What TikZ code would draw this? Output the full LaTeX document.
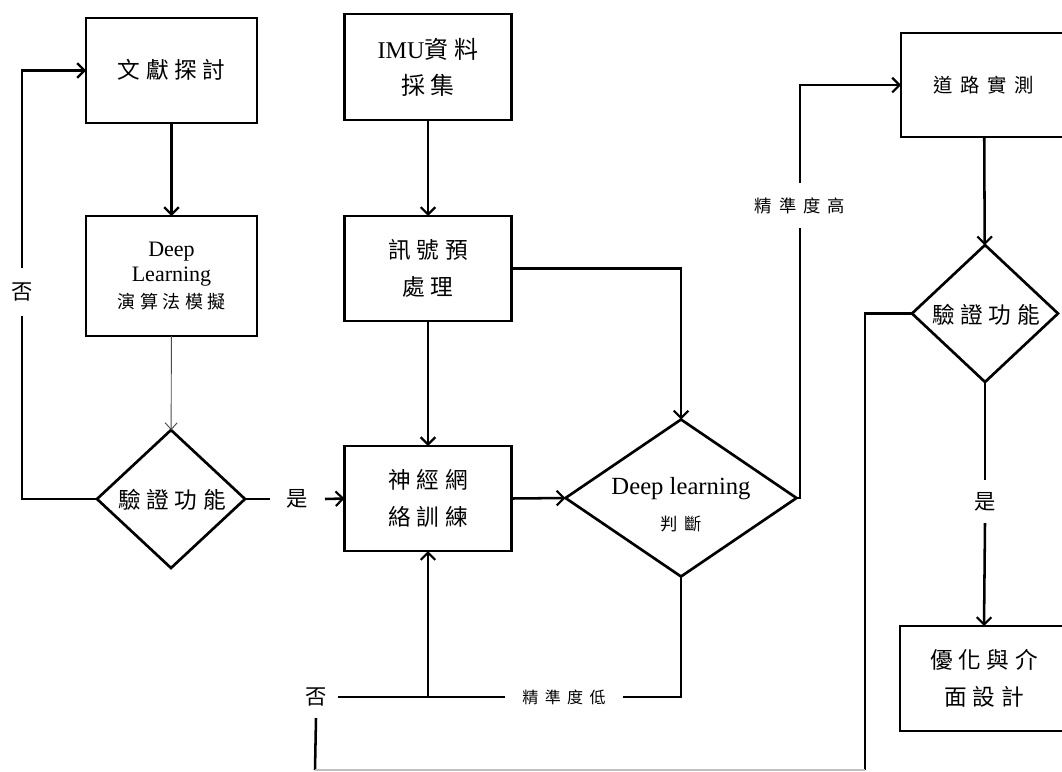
\documentclass[tikz,border=0pt]{standalone}
\usepackage{fontspec}
\setmainfont{Liberation Serif}
\newfontfamily\cjk{Noto Sans CJK TC}[LetterSpace=25]
\newfontfamily\cjkw{Noto Sans CJK TC}[LetterSpace=40]
\usetikzlibrary{arrows.meta,shapes.geometric}
\newcommand{\zhL}{\cjk\fontsize{17}{28}\selectfont}
\newcommand{\zhS}{\cjkw\fontsize{13}{20}\selectfont}
\newcommand{\zhR}{\cjkw\fontsize{14.5}{20}\selectfont}
\begin{document}
\begin{tikzpicture}[x=0.75pt,y=-0.75pt,
  line width=1.9pt,
  box/.style={draw,rectangle,line width=2pt,inner sep=0pt,outer sep=0pt,align=center},
  dia/.style={draw,diamond,line width=2pt,inner sep=0pt,outer sep=0pt},
  lbl/.style={inner sep=0pt,outer sep=0pt},
  arr/.style={-{Straight Barb[length=5.5pt,width=11pt,line width=1.6pt]}},
  thinarr/.style={line width=0.7pt,draw=black!70,-{Straight Barb[length=5pt,width=9pt,line width=0.7pt]}}
]
\useasboundingbox (0,0) rectangle (1062,771);
\fill[white] (0,0) rectangle (1062,771);
\clip (0,0) rectangle (1062,771);

% boxes
\node[box,minimum width=171*0.75pt,minimum height=105*0.75pt,font=\zhL] (lit) at (171.5,70.5) {\raisebox{3pt}{文獻探討}};
\node[box,minimum width=171*0.75pt,minimum height=120*0.75pt,font=\fontsize{16.5}{19}\selectfont] (alg) at (171.5,276)
  {Deep\\Learning\\[1pt]{\cjk\fontsize{13.5}{20}\selectfont 演算法模擬}};
\node[box,minimum width=167*0.75pt,minimum height=106*0.75pt,font=\fontsize{18}{27}\selectfont] (imu) at (428,67)
  {IMU{\cjk 資料}\\{\cjk 採集}};
\node[box,minimum width=167*0.75pt,minimum height=105*0.75pt,font=\zhL] (sig) at (428,268.5) {訊號預\\處理};
\node[box,minimum width=167*0.75pt,minimum height=105*0.75pt,font=\zhL] (nn) at (428,498.5) {神經網\\絡訓練};
\node[box,minimum width=166*0.75pt,minimum height=104*0.75pt,font=\zhR] (road) at (984,85) {道路實測};
\node[box,minimum width=168*0.75pt,minimum height=105*0.75pt,font=\zhL] (opt) at (984,678.5) {優化與介\\面設計};

% diamonds
\node[dia,minimum width=148*0.75pt,minimum height=138*0.75pt] (d1) at (171,499) {};
\node[lbl,font=\zhL] (d1t) at (172,500) {驗證功能};
\node[dia,minimum width=231*0.75pt,minimum height=157*0.75pt] (d2) at (681,498) {};
\node[lbl,align=center,font=\fontsize{18.5}{27}\selectfont] (d2t) at (681,505) {Deep learning\\{\zhS 判斷}};
\node[dia,minimum width=146*0.75pt,minimum height=137*0.75pt] (d3) at (985,313.5) {};
\node[lbl,font=\zhL] (d3t) at (986,315) {驗證功能};

% labels on connectors
\node[lbl,minimum height=48*0.75pt,font=\cjk\fontsize{16}{18}\selectfont] (no1) at (22,292) {否};
\node[lbl,minimum width=55*0.75pt,font=\cjk\fontsize{16}{18}\selectfont] (yes1) at (297.5,499) {是};
\node[lbl,minimum height=45*0.75pt,font=\zhS] (high) at (800,205.5) {精準度高};
\node[lbl,minimum height=43*0.75pt,font=\cjk\fontsize{16}{18}\selectfont] (yes2) at (985,501.5) {是};
\node[lbl,minimum width=44*0.75pt,minimum height=42*0.75pt,font=\cjk\fontsize{16}{18}\selectfont] (no2) at (316,697) {否};
\node[lbl,minimum width=118*0.75pt,font=\cjkw\fontsize{12}{16}\selectfont] (low) at (564,697) {精準度低};

\coordinate (j) at (nn.south |- low.west);
\coordinate (bl) at (315,770);
\coordinate (br) at (865,770);

% connectors
\draw[arr] (lit) -- (alg);
\draw[thinarr] (alg) -- (d1);
\draw (d1.west) -| (no1.south);
\draw[arr] (no1.north) |- (lit.west);
\draw (d1.east) -- (yes1.west);
\draw[arr] (yes1.east) -- (nn.west);
\draw[arr] (imu) -- (sig);
\draw[arr] (sig) -- (nn);
\draw[arr] (sig.east) -| (d2.north);
\draw[arr] (nn.east) -- (d2.west);
\draw (d2.east) -| (high.south);
\draw[arr] (high.north) |- (road.west);
\draw[arr] (road) -- (d3);
\draw (d3.south) -- (yes2.north);
\draw[arr] (yes2.south) -- (opt.north);
\draw (d2.south) |- (low.east);
\draw (low.west) -- (no2.east);
\draw[arr] (j) -- (nn.south);
\draw (no2.south) -- (bl);
\draw (d3.west) -| (br);
\draw[line width=0.8pt,draw=black!25] (bl) -- (br);
\end{tikzpicture}
\end{document}
